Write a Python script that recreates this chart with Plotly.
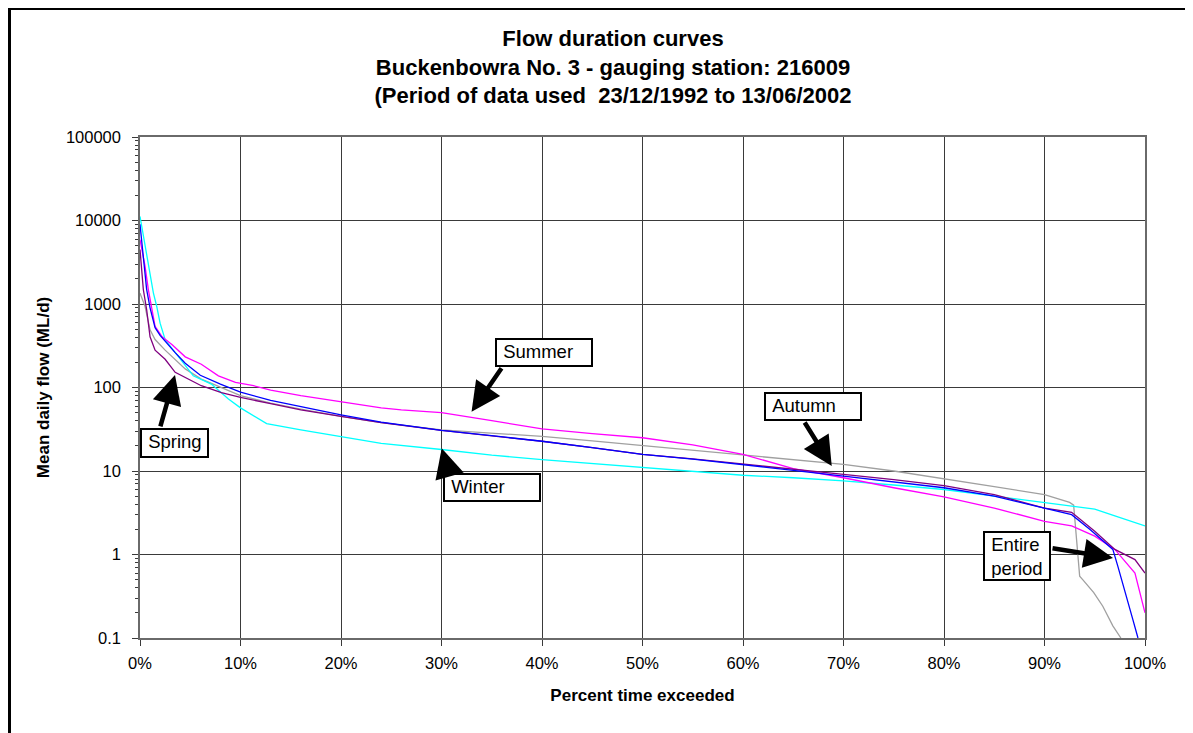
import math
import plotly.graph_objects as go

# ---------------- data ----------------
entire_x = [0, 0.33, 0.66, 1, 1.5, 2, 2.5, 3.5, 4.5, 6, 8, 10, 13, 16, 20, 24, 30, 35, 40, 45, 50, 55, 60,
            65, 70, 75, 80, 85, 90, 92.7, 94.5, 96, 96.8, 97.3, 98, 98.8, 99.3]
entire_y = [9000, 3500, 1500, 900, 520, 420, 355, 262, 195, 140, 110, 88, 70, 59, 47, 38.4, 30.6, 26.5, 22.7,
            19, 15.8, 13.9, 12, 10.2, 8.7, 7.4, 6.3, 5.0, 3.6, 3.0, 2.0, 1.38, 1.15, 0.72, 0.35, 0.165, 0.1]

summer_x = [0, 0.5, 0.83, 1.16, 1.5, 2.2, 3.2, 4.5, 6.1, 7.8, 9.5, 11.3, 13, 16, 19.3, 24, 26, 30, 35, 40,
            45, 50, 55, 60, 65, 70, 75, 80, 85, 90, 92.7, 95, 97, 99, 100]
summer_y = [5900, 2840, 1490, 860, 540, 405, 326, 233, 190, 138, 115, 105, 93, 80, 70, 57, 54, 50, 40, 32,
            28, 25, 20.5, 15.8, 10.7, 8.3, 6.3, 4.9, 3.6, 2.5, 2.2, 1.66, 1.15, 0.6, 0.2]

autumn_x = [0, 0.5, 1, 1.5, 2.5, 3.5, 4.5, 6.1, 8.1, 10, 13, 16, 20, 24, 30, 35, 40, 45, 50, 55, 60, 65,
            70, 75, 80, 85, 90, 92.5, 92.9, 93.2, 93.5, 93.8, 94.9, 95.8, 96.8, 97.6]
autumn_y = [1350, 940, 490, 375, 280, 218, 167, 126, 100, 80, 65, 55, 45, 38, 31, 28.5, 26, 23, 20.2, 17.5,
            15.3, 13.5, 12, 10, 8.1, 6.5, 5.2, 4.2, 3.9, 1.5, 0.55, 0.5, 0.35, 0.24, 0.14, 0.1]

winter_x = [0, 0.33, 0.83, 1.33, 1.66, 2, 2.5, 3.5, 4.5, 5.3, 7.1, 8.8, 10, 12.6, 16, 20, 24, 30, 35, 40,
            45, 50, 55, 60, 65, 70, 75, 80, 85, 90, 95, 97, 100]
winter_y = [11200, 6800, 3100, 1360, 940, 590, 375, 262, 182, 138, 110, 73, 57, 37, 31, 26, 21.4, 18.1,
            15.5, 13.7, 12.3, 11.1, 10.1, 8.9, 8.3, 7.6, 6.8, 6.0, 5.0, 4.2, 3.5, 2.9, 2.2]

spring_x = [0, 0.33, 0.66, 1, 1.5, 2.5, 3.5, 4.8, 6.1, 8.1, 10, 13, 16, 20, 24, 30, 35, 40, 45, 50, 55,
            60, 65, 70, 75, 80, 85, 90, 92.7, 95, 97, 99, 100]
spring_y = [4500, 1490, 860, 405, 280, 218, 152, 126, 105, 87, 76, 64, 54, 45, 38, 30.6, 26.5, 22.7, 19,
            15.8, 14, 12.2, 10.6, 9.1, 7.9, 6.7, 5.2, 3.6, 3.2, 1.9, 1.15, 0.87, 0.6]

x_ticks = [0, 10, 20, 30, 40, 50, 60, 70, 80, 90, 100]
x_tick_labels = ["0%", "10%", "20%", "30%", "40%", "50%", "60%", "70%", "80%", "90%", "100%"]
y_ticks = [0.1, 1, 10, 100, 1000, 10000, 100000]
y_tick_labels = ["0.1", "1", "10", "100", "1000", "10000", "100000"]

title_lines = ["Flow duration curves",
               "Buckenbowra No. 3 - gauging station: 216009",
               "(Period of data used  23/12/1992 to 13/06/2002"]

FONT = "Liberation Sans, Arial, sans-serif"

W, H = 1193, 733
ML, MT, MR, MB = 132, 129, 56, 103
PW, PH = W - ML - MR, H - MT - MB

fig = go.Figure()
series = [
    ("Autumn", autumn_x, autumn_y, "#A0A0A0"),
    ("Winter", winter_x, winter_y, "#00FFFF"),
    ("Summer", summer_x, summer_y, "#FF00FF"),
    ("Spring", spring_x, spring_y, "#800080"),
    ("Entire period", entire_x, entire_y, "#0000FF"),
]
for name, xs, ys, col in series:
    fig.add_trace(go.Scatter(x=xs, y=ys, mode="lines", name=name,
                             line=dict(color=col, width=1.3)))

minor_vals = [k * 10 ** e for e in range(-1, 5) for k in range(2, 10)]

fig.update_xaxes(range=[0, 100], tickvals=x_ticks, ticktext=x_tick_labels,
                 showgrid=True, gridcolor="#3a3a3a", gridwidth=1,
                 showline=True, linecolor="#6a6a6a", linewidth=1.5, mirror=True,
                 ticks="outside", ticklen=6, tickcolor="#3a3a3a", ticklabelstandoff=3,
                 tickfont=dict(family=FONT, size=16.5, color="black"),
                 zeroline=False,
                 title=dict(text="<b>Percent time exceeded</b>", standoff=19,
                            font=dict(family=FONT, size=17, color="black")))
fig.update_yaxes(type="log", range=[-1, 5], tickvals=y_ticks, ticktext=y_tick_labels,
                 showgrid=True, gridcolor="#3a3a3a", gridwidth=1,
                 showline=True, linecolor="#6a6a6a", linewidth=1.5, mirror=True,
                 ticks="outside", ticklen=6, tickcolor="#3a3a3a", ticklabelstandoff=8,
                 tickfont=dict(family=FONT, size=16.5, color="black"),
                 minor=dict(tickvals=minor_vals, ticks="outside", ticklen=3,
                            tickcolor="#3a3a3a", showgrid=False),
                 zeroline=False,
                 title=dict(text="<b>Mean daily flow (ML/d)</b>", standoff=12,
                            font=dict(family=FONT, size=17, color="black")))

fig.update_layout(
    width=W, height=H,
    margin=dict(l=ML, r=MR, t=MT, b=MB),
    paper_bgcolor="white", plot_bgcolor="white",
    showlegend=False,
    title=dict(text="<b>" + "<br>".join(title_lines) + "</b>",
               x=605 / W, xanchor="center",
               y=1 - 38 / H, yanchor="top", yref="container",
               font=dict(family=FONT, size=22, color="black")),
)

# outer frame (only top/left visible in the picture)
fig.add_shape(type="rect", xref="paper", yref="paper",
              x0=(1.5 - ML) / PW, x1=(1300 - ML) / PW,
              y0=(MT + PH - 900) / PH, y1=(MT + PH - 0.5) / PH,
              line=dict(color="black", width=3), fillcolor="rgba(0,0,0,0)", layer="above")

# label boxes: (text, x %, log10(y), width, height)
boxes = [
    ("\u00a0Summer", 40.15, 2.425, 92, 23),
    ("\u00a0Spring", 3.45, 1.341, 63, 24),
    ("\u00a0Winter", 35.0, 0.806, 92, 23),
    ("\u00a0Autumn", 66.97, 1.775, 92, 23),
    ("\u00a0Entire<br>\u00a0period", 87.23, -0.014, 62, 44),
]
for txt, bx, by, w, h in boxes:
    fig.add_annotation(x=bx, y=by, xref="x", yref="y", text=txt, showarrow=False,
                       align="left", valign="top", width=w, height=h,
                       bgcolor="white", bordercolor="black", borderwidth=2, borderpad=1,
                       font=dict(family=FONT, size=18.5, color="black"))

# arrows: tip (x %, log10(y)), tail offset in pixels
arrows = [
    (32.99, 1.710, 31, -45),
    (3.48, 2.150, -15, 53),
    (30.02, 1.272, 7, 25),
    (68.83, 1.060, -28, -45),
    (96.82, -0.042, -62, -10),
]
for tx, ty, axp, ayp in arrows:
    fig.add_annotation(x=tx, y=ty, xref="x", yref="y", text="", showarrow=True,
                       ax=axp, ay=ayp, arrowhead=2, arrowsize=1.3, arrowwidth=4.5,
                       arrowcolor="black")

fig.write_html("out.html")
